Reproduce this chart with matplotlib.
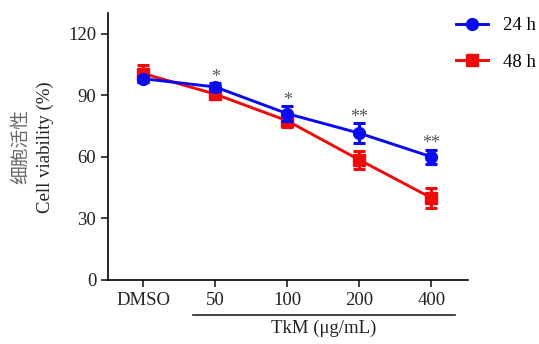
import matplotlib
matplotlib.use("Agg")
import matplotlib.pyplot as plt
from matplotlib.lines import Line2D

plt.rcParams['font.family'] = ['Liberation Serif', 'Noto Sans CJK SC']

# data
groups = ["DMSO", "50", "100", "200", "400"]
h24_mean = [98, 94, 81, 71.5, 60]
h24_err = [1.5, 2, 3.5, 5, 3.5]
h48_mean = [100.5, 90.5, 77.5, 58.5, 40]
h48_err = [4, 2, 3, 4.5, 5]
stars = ["", "*", "*", "**", "**"]

blue = "#0a0af0"
red = "#f00a0a"
fs = 13.5
lw = 2.1

fig = plt.figure(figsize=(5.39, 3.44), dpi=100)
ax = fig.add_axes([108 / 539, 1 - 280 / 344, 360 / 539, 267 / 344])

x = list(range(len(groups)))
ax.errorbar(x, h48_mean, yerr=h48_err, color=red, marker="s", markersize=8,
            lw=lw, capsize=4.5, capthick=2.2, elinewidth=2.2, zorder=3)
ax.errorbar(x, h24_mean, yerr=h24_err, color=blue, marker="o", markersize=8.5,
            lw=lw, capsize=4.5, capthick=2.2, elinewidth=2.2, zorder=4)

# significance marks above the 24 h error bars
for xi, m, e, s in zip(x, h24_mean, h24_err, stars):
    if s:
        ax.text(xi, m + e + 0.6, s, ha="center", va="baseline", fontsize=13, color="#555555")

ax.set_xlim(-0.49, 4.51)
ax.set_ylim(0, 130)
ax.set_yticks([0, 30, 60, 90, 120])
ax.set_xticks(x)
ax.set_xticklabels(groups)
ax.tick_params(labelsize=fs, colors="#222222", width=1.2, length=5)
for side in ["top", "right"]:
    ax.spines[side].set_visible(False)
for side in ["left", "bottom"]:
    ax.spines[side].set_linewidth(1.2)

# y label in two lines
fig.text(21 / 539, 1 - 147 / 344, "细胞活性", rotation=90, ha="center", va="center",
         fontsize=13.5, color="#666666", family=['Noto Sans CJK SC'])
fig.text(45 / 539, 1 - 147 / 344, "Cell viability (%)", rotation=90, ha="center", va="center",
         fontsize=fs, color="#222222")

# bracket and unit under concentration groups
ax.plot([(193 - 108) / 360, (455 - 108) / 360], [-35 / 267, -35 / 267], color="#222222",
        lw=1.2, transform=ax.transAxes, clip_on=False)
ax.text((324 - 108) / 360, -40 / 267, "TkM (μg/mL)", transform=ax.transAxes,
        ha="center", va="top", fontsize=fs, color="#222222")

handles = [Line2D([], [], color=blue, marker="o", markersize=8.5, lw=lw),
           Line2D([], [], color=red, marker="s", markersize=8, lw=lw)]
fig.legend(handles, ["24 h", "48 h"], loc="upper left", bbox_to_anchor=(456 / 539, 1 - 17 / 344),
           frameon=False, fontsize=fs, borderpad=0, borderaxespad=0, handlelength=1.7,
           handletextpad=0.8, labelspacing=1.05)

fig.savefig("out.png", dpi=100)
